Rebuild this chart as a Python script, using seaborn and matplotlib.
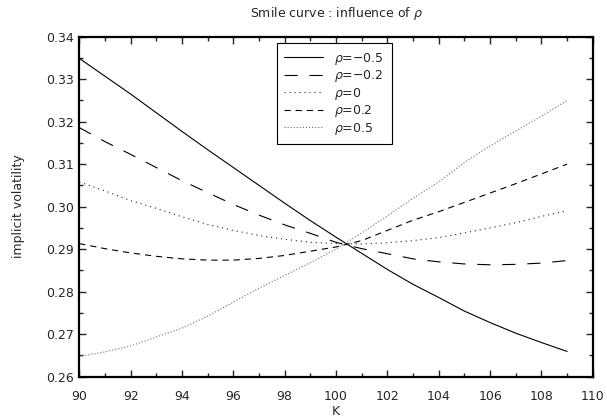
import matplotlib
matplotlib.use("Agg")
import matplotlib.pyplot as plt
import seaborn as sns
import pandas as pd
from matplotlib.ticker import MultipleLocator, FormatStrFormatter

# strikes
K = [90, 91, 92, 93, 94, 95, 96, 97, 98, 99, 100, 101, 102, 103, 104, 105, 106, 107, 108, 109]

# implied vol, one list per rho
vol_m05 = [0.3349, 0.3307, 0.3265, 0.3221, 0.3177, 0.3134, 0.3092, 0.3050, 0.3008, 0.2967,
           0.2928, 0.2890, 0.2852, 0.2817, 0.2786, 0.2754, 0.2727, 0.2702, 0.2680, 0.2659]
vol_m02 = [0.3186, 0.3153, 0.3123, 0.3092, 0.3061, 0.3033, 0.3005, 0.2980, 0.2957, 0.2937,
           0.2916, 0.2901, 0.2889, 0.2877, 0.2870, 0.2865, 0.2863, 0.2864, 0.2867, 0.2873]
vol_0 = [0.3058, 0.3037, 0.3014, 0.2996, 0.2976, 0.2958, 0.2944, 0.2932, 0.2923, 0.2916,
         0.2913, 0.2912, 0.2915, 0.2920, 0.2927, 0.2938, 0.2950, 0.2962, 0.2977, 0.2990]
vol_p02 = [0.2913, 0.2901, 0.2891, 0.2883, 0.2877, 0.2874, 0.2874, 0.2878, 0.2885, 0.2895,
           0.2905, 0.2920, 0.2944, 0.2968, 0.2988, 0.3010, 0.3032, 0.3054, 0.3077, 0.3100]
vol_p05 = [0.2647, 0.2658, 0.2672, 0.2693, 0.2714, 0.2742, 0.2775, 0.2808, 0.2838, 0.2868,
           0.2900, 0.2938, 0.2978, 0.3020, 0.3058, 0.3104, 0.3143, 0.3178, 0.3213, 0.3250]

etiquetas = [r"$\rho$=−0.5", r"$\rho$=−0.2", r"$\rho$=0", r"$\rho$=0.2", r"$\rho$=0.5"]
series = [vol_m05, vol_m02, vol_0, vol_p02, vol_p05]

# estilo de cada curva
estilos = [
    dict(color="black", dashes=[]),
    dict(color="black", dashes=[9.5, 8.5]),
    dict(color="#222222", dashes=[0.8, 2.8]),
    dict(color="black", dashes=[4.5, 3.5]),
    dict(color="#707070", dashes=[0.8, 1.4]),
]

sns.set_style("ticks")
plt.rcParams["font.family"] = ["DejaVu Sans"]
plt.rcParams["lines.scale_dashes"] = False
plt.rcParams["xtick.direction"] = "in"
plt.rcParams["ytick.direction"] = "in"

fig = plt.figure(figsize=(6.07, 4.19), dpi=100)
ax = fig.add_axes([0.1306, 0.1014, 0.846, 0.811])

for vol, lab, st in zip(series, etiquetas, estilos):
    df = pd.DataFrame({"K": K, "vol": vol})
    sns.lineplot(data=df, x="K", y="vol", ax=ax, label=lab, linewidth=0.8,
                 color=st["color"], dashes=False)
    ln = ax.get_lines()[-1]
    if st["dashes"]:
        ln.set_dashes(st["dashes"])

ax.set_xlim(90, 110)
ax.set_ylim(0.26, 0.34)
ax.xaxis.set_major_locator(MultipleLocator(2))
ax.xaxis.set_minor_locator(MultipleLocator(1))
ax.yaxis.set_major_locator(MultipleLocator(0.01))
ax.yaxis.set_minor_locator(MultipleLocator(0.005))
ax.yaxis.set_major_formatter(FormatStrFormatter("%.2f"))
ax.tick_params(which="both", top=True, right=True, direction="in", width=1, labelsize=9)
ax.tick_params(which="major", length=5)
ax.tick_params(which="minor", length=3)
ax.tick_params(axis="x", pad=10)
ax.tick_params(axis="y", pad=4)
for s in ax.spines.values():
    s.set_linewidth(1.6)
    s.set_color("black")

fig.canvas.draw()
ax.get_xticklabels()[0].set_horizontalalignment("left")
ax.get_yticklabels()[-1].set_verticalalignment("top")

ax.set_xlabel("K", fontsize=9, labelpad=1)
ax.set_ylabel("implicit volatility", fontsize=9, labelpad=15)
ax.set_title(r"Smile curve : influence of $\rho$", fontsize=9, pad=14)

leg = ax.legend(loc="upper left", bbox_to_anchor=(0.385, 0.981), fontsize=9,
                frameon=True, fancybox=False, edgecolor="black", framealpha=1,
                handlelength=3.1, handletextpad=0.9, labelspacing=0.12, borderpad=0.6,
                borderaxespad=0)
leg.get_frame().set_linewidth(0.8)

fig.savefig("out.png", dpi=100)
